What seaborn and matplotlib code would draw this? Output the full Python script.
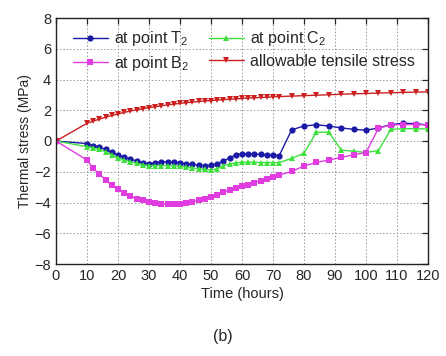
import numpy as np
import pandas as pd
import matplotlib
matplotlib.use("Agg")
import matplotlib.pyplot as plt
import seaborn as sns

time = [0] + list(range(10, 73, 2)) + list(range(76, 121, 4))

allowable = [0, 1.15, 1.3, 1.42, 1.55, 1.66, 1.76, 1.86, 1.95, 2.03, 2.1, 2.17, 2.23, 2.29,
             2.35, 2.4, 2.45, 2.49, 2.53, 2.57, 2.6, 2.63, 2.66, 2.69, 2.72, 2.74, 2.77,
             2.79, 2.81, 2.83, 2.85, 2.87, 2.89, 2.92, 2.95, 2.98, 3.01, 3.04, 3.07, 3.09,
             3.12, 3.14, 3.16, 3.18, 3.2]
point_T2 = [0, -0.17, -0.3, -0.39, -0.54, -0.74, -0.89, -1.07, -1.17, -1.3, -1.41, -1.48,
            -1.43, -1.35, -1.35, -1.39, -1.41, -1.48, -1.52, -1.57, -1.6, -1.59, -1.48,
            -1.3, -1.09, -0.91, -0.83, -0.85, -0.85, -0.87, -0.9, -0.93, -0.95,
            0.72, 0.98, 1.05, 0.98, 0.85, 0.76, 0.7, 0.85, 1.07, 1.15, 1.13, 1.04]
point_C2 = [0, -0.37, -0.45, -0.55, -0.7, -0.9, -1.1, -1.25, -1.35, -1.45, -1.55, -1.6,
            -1.6, -1.6, -1.6, -1.62, -1.65, -1.7, -1.75, -1.8, -1.85, -1.9, -1.8, -1.6,
            -1.5, -1.42, -1.38, -1.38, -1.38, -1.4, -1.4, -1.4, -1.4,
            -1.13, -0.8, 0.57, 0.57, -0.59, -0.67, -0.74, -0.63, 0.76, 0.8, 0.8, 0.78]
point_B2 = [0, -1.24, -1.78, -2.15, -2.54, -2.89, -3.15, -3.41, -3.59, -3.74, -3.85, -3.96,
            -4.04, -4.09, -4.09, -4.09, -4.07, -4.02, -3.96, -3.85, -3.76, -3.65, -3.48,
            -3.33, -3.2, -3.07, -2.93, -2.83, -2.7, -2.59, -2.48, -2.37, -2.22,
            -1.98, -1.63, -1.39, -1.24, -1.07, -0.89, -0.76, 0.83, 1.04, 1.07, 1.07, 1.04]

series = [
    ("at point T$_2$", point_T2, "#1a1aa6", "o"),
    ("at point C$_2$", point_C2, "#3de03d", "^"),
    ("at point B$_2$", point_B2, "#e03ce0", "s"),
    ("allowable tensile stress", allowable, "#cc2020", "v"),
]

sns.set_style("white")
plt.rcParams["font.family"] = ["Liberation Sans", "DejaVu Sans"]
plt.rcParams["mathtext.fontset"] = "custom"
plt.rcParams["mathtext.rm"] = "Liberation Sans"

fig = plt.figure(figsize=(4.46, 3.56), dpi=100)
ax = fig.add_axes([56/446, 1-264/356, (428-56)/446, (264-18)/356])

for name, vals, col, mk in series:
    df = pd.DataFrame({"t": time, "v": vals})
    sns.lineplot(data=df, x="t", y="v", ax=ax, color=col, marker=mk, markersize=4.5,
                 markeredgewidth=0, linewidth=1.0, label=name)

ax.set_xlim(0, 120)
ax.set_ylim(-8, 8)
ax.set_xticks(range(0, 121, 10))
ax.set_yticks(range(-8, 9, 2))
ax.grid(True, linestyle=(0, (1.5, 2)), color="#999999", linewidth=0.7)
ax.tick_params(direction="in", length=4, top=True, right=True, labelsize=10.5, width=0.9)
for s in ax.spines.values():
    s.set_color("#222222")
    s.set_linewidth(1.0)
ax.set_xlabel("Time (hours)", fontsize=10.5, labelpad=3)
ax.set_ylabel("Thermal stress (MPa)", fontsize=10, labelpad=2)

handles, labels = ax.get_legend_handles_labels()
order = [0, 2, 1, 3]
ax.legend([handles[i] for i in order], [labels[i] for i in order], ncol=2,
          loc="upper left", bbox_to_anchor=(0.015, 1.0),
          frameon=False, fontsize=11.5, handlelength=2.2, handletextpad=0.4,
          columnspacing=1.2, labelspacing=0.35, borderaxespad=0.3)

fig.text(0.5, 1-337/356, "(b)", ha="center", va="center", fontsize=11.5)
fig.savefig("out.png", dpi=100)
